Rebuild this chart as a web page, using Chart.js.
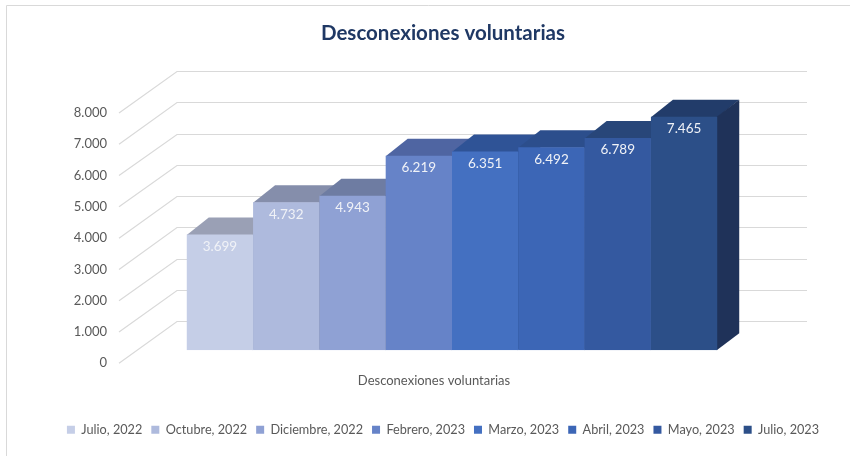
<!DOCTYPE html>
<html>
<head>
<meta charset="utf-8">
<script src="https://cdn.jsdelivr.net/npm/chart.js@4"></script>
<style>
  html, body { margin: 0; padding: 0; background: #fff; }
  #wrap { width: 850px; height: 456px; position: relative; }
</style>
</head>
<body>
<div id="wrap"><canvas id="chart" width="850" height="456"></canvas></div>
<script>
// Données
const categories = ['Desconexiones voluntarias'];
const seriesNames = ['Julio, 2022', 'Octubre, 2022', 'Diciembre, 2022', 'Febrero, 2023',
                     'Marzo, 2023', 'Abril, 2023', 'Mayo, 2023', 'Julio, 2023'];
const seriesValues = [3699, 4732, 4943, 6219, 6351, 6492, 6789, 7465];
const yTicks = [0, 1000, 2000, 3000, 4000, 5000, 6000, 7000, 8000];

// Couleurs (face avant, dessus, côté)
const frontColors = ['#C5CEE7', '#AEBADD', '#8FA1D4', '#6683C8', '#4470C1', '#3C66B6', '#3459A0', '#2C4F88'];
const topColors   = ['#9AA0B5', '#858EAB', '#6E7CA2', '#4F65A2', '#2F5396', '#2C4E8C', '#284679', '#223C6A'];
const sideColors  = ['#7F8AA8', '#6C7899', '#57678F', '#3F568F', '#264580', '#243F74', '#203965', '#1F3259'];

// Décalages de la perspective (px)
const DEPTH = {
    front: [-18, 13],  // bord avant du mur/sol
    back: [40, -29],   // mur du fond
    bar: [22, -17]     // profondeur d'une barre
};

const fmt = v => String(v).replace(/\B(?=(\d{3})+(?!\d))/g, '.');

const threeD = {
    id: 'threeD',
    beforeDraw(chart) {
        const ctx = chart.ctx;
        ctx.save();
        ctx.strokeStyle = '#D9D9D9';
        ctx.lineWidth = 1;
        ctx.beginPath();
        ctx.moveTo(6.5, 456);
        ctx.lineTo(6.5, 5.5);
        ctx.lineTo(850, 5.5);
        ctx.stroke();
        ctx.restore();
    },
    beforeDatasetsDraw(chart) {
        const { ctx, chartArea: a, scales: { y } } = chart;
        ctx.save();
        // Murs : lignes de quadrillage
        ctx.strokeStyle = '#D9D9D9';
        ctx.lineWidth = 1.2;
        y.ticks.forEach(t => {
            const py = y.getPixelForValue(t.value);
            const by = Math.round(py + DEPTH.back[1]) + 0.5;
            ctx.beginPath();
            ctx.moveTo(a.left + DEPTH.front[0], py + DEPTH.front[1]);
            ctx.lineTo(a.left + DEPTH.back[0], by);
            ctx.lineTo(a.right + DEPTH.back[0], by);
            ctx.stroke();
        });
        // Dessus et côté des barres, de gauche à droite
        const [dx, dy] = DEPTH.bar;
        chart.data.datasets.forEach((ds, i) => {
            const bar = chart.getDatasetMeta(i).data[0];
            const { x, y: top, base, width } = bar.getProps(['x', 'y', 'base', 'width'], true);
            const l = x - width / 2, r = x + width / 2;
            ctx.fillStyle = topColors[i];
            ctx.beginPath();
            ctx.moveTo(l, top + 0.5);
            ctx.lineTo(l + dx, top + dy);
            ctx.lineTo(r + dx, top + dy);
            ctx.lineTo(r + 0.5, top + 0.5);
            ctx.closePath();
            ctx.fill();
            ctx.fillStyle = sideColors[i];
            ctx.beginPath();
            ctx.moveTo(r - 0.5, top);
            ctx.lineTo(r + dx, top + dy);
            ctx.lineTo(r + dx, base + dy);
            ctx.lineTo(r - 0.5, base);
            ctx.closePath();
            ctx.fill();
        });
        ctx.restore();
    },
    afterDatasetsDraw(chart) {
        const ctx = chart.ctx;
        ctx.save();
        ctx.fillStyle = '#F0F2F7';
        ctx.font = '13.5px Lato';
        ctx.textAlign = 'center';
        ctx.textBaseline = 'middle';
        chart.data.datasets.forEach((ds, i) => {
            const bar = chart.getDatasetMeta(i).data[0];
            ctx.fillText(fmt(ds.data[0]), bar.x, bar.y + 12);
        });
        ctx.restore();
    }
};

const datasets = seriesNames.map((name, i) => ({
    label: name,
    data: [seriesValues[i]],
    backgroundColor: frontColors[i],
    borderWidth: 0,
    barPercentage: 1,
    categoryPercentage: 0.842
}));

new Chart(document.getElementById('chart').getContext('2d'), {
    type: 'bar',
    data: { labels: categories, datasets },
    options: {
        responsive: false,
        animation: false,
        layout: { padding: { left: 36, right: 0, top: 0, bottom: 10 } },
        scales: {
            x: {
                grid: { display: false, drawTicks: false },
                border: { display: false },
                ticks: {
                    color: '#595959',
                    font: { family: 'Lato', size: 13 },
                    padding: 23,
                    labelOffset: DEPTH.front[0]
                },
                afterFit: s => { s.height = 64; }
            },
            y: {
                min: yTicks[0],
                max: yTicks[yTicks.length - 1],
                afterBuildTicks: s => { s.ticks = yTicks.map(v => ({ value: v })); },
                grid: { display: false, drawTicks: false },
                border: { display: false },
                ticks: {
                    color: '#595959',
                    font: { family: 'Lato', size: 13 },
                    padding: 30,
                    labelOffset: DEPTH.front[1],
                    callback: v => fmt(v)
                },
                afterFit: s => { s.width = 101; }
            },
            yRight: {
                position: 'right',
                grid: { display: false, drawTicks: false },
                border: { display: false },
                ticks: { display: false },
                afterFit: s => { s.width = 83; }
            }
        },
        plugins: {
            title: {
                display: true,
                text: 'Desconexiones voluntarias',
                color: '#1F3864',
                font: { family: 'Lato', size: 20.5, weight: 'bold' },
                padding: { top: 21, bottom: 54.4 }
            },
            legend: {
                position: 'bottom',
                labels: {
                    color: '#595959',
                    font: { family: 'Lato', size: 12.7 },
                    boxWidth: 8,
                    boxHeight: 8,
                    padding: 9
                }
            },
            tooltip: { enabled: false }
        }
    },
    plugins: [threeD]
});
</script>
</body>
</html>
